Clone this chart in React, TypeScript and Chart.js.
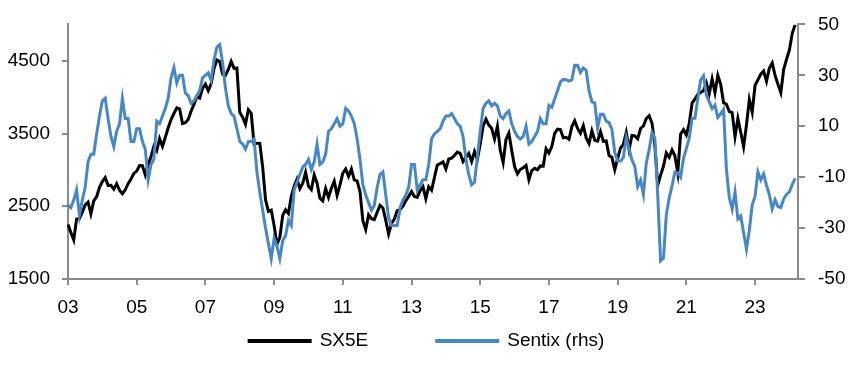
import React, { useEffect, useRef } from "react";
import { Chart, registerables } from "chart.js";

Chart.register(...registerables);

// ---------- data ----------
// monthly categories Jan 2003 .. Apr 2024
const months: string[] = [];
for (let y = 2003; y <= 2024; y++) {
  for (let m = 1; m <= 12; m++) {
    if (y === 2024 && m > 4) break;
    months.push(`${y}-${String(m).padStart(2, "0")}`);
  }
}

const xTickLabels = ["03", "05", "07", "09", "11", "13", "15", "17", "19", "21", "23"];
const leftTicks = [1500, 2500, 3500, 4500];
const rightTicks = [-50, -30, -10, 10, 30, 50];

const sx5e = [
  2249, 2140, 2036, 2325, 2330, 2419, 2519, 2556, 2395, 2575, 2631, 2761,
  2839, 2894, 2787, 2788, 2736, 2811, 2720, 2671, 2726, 2811, 2876, 2951,
  2984, 3058, 3056, 2930, 3076, 3182, 3326, 3263, 3429, 3322, 3448, 3579,
  3692, 3775, 3854, 3839, 3637, 3649, 3692, 3809, 3900, 4005, 3987, 4120,
  4179, 4088, 4182, 4393, 4512, 4489, 4316, 4300, 4381, 4490, 4395, 4400,
  3792, 3724, 3628, 3826, 3777, 3353, 3367, 3365, 3038, 2591, 2430, 2447,
  2236, 1976, 2071, 2375, 2451, 2401, 2638, 2775, 2873, 2743, 2817, 2966,
  2776, 2728, 2931, 2817, 2611, 2574, 2742, 2622, 2748, 2845, 2650, 2793,
  2954, 3013, 2911, 3011, 2862, 2849, 2700, 2303, 2180, 2385, 2330, 2317,
  2417, 2512, 2477, 2306, 2118, 2265, 2325, 2440, 2455, 2503, 2575, 2636,
  2703, 2634, 2624, 2712, 2770, 2603, 2768, 2721, 2893, 3068, 3087, 3109,
  3013, 3149, 3162, 3198, 3245, 3228, 3116, 3173, 3226, 3114, 3251, 3146,
  3352, 3599, 3697, 3616, 3571, 3425, 3601, 3270, 3101, 3418, 3506, 3268,
  3045, 2946, 3005, 3028, 3063, 2865, 2991, 3023, 3002, 3055, 3052, 3291,
  3231, 3320, 3501, 3560, 3555, 3442, 3449, 3421, 3595, 3674, 3570, 3504,
  3609, 3439, 3362, 3536, 3407, 3396, 3525, 3393, 3399, 3198, 3173, 3001,
  3159, 3298, 3352, 3515, 3281, 3474, 3467, 3427, 3569, 3604, 3704, 3745,
  3641, 3329, 2787, 2928, 3050, 3234, 3174, 3273, 3194, 2958, 3493, 3553,
  3481, 3636, 3919, 3975, 4039, 4064, 4089, 4196, 4048, 4250, 4063, 4298,
  4175, 3924, 3903, 3803, 3789, 3455, 3708, 3517, 3318, 3618, 3965, 3794,
  4163, 4238, 4315, 4359, 4218, 4399, 4471, 4297, 4175, 4061, 4382, 4521,
  4648, 4878, 4995,
];

const sentix = [
  -21, -22, -19, -15, -25, -19, -14, -4, -1, -1, 7, 14,
  20, 21, 13, 6, 2, 8, 11, 21, 13, 13, 4, 4,
  9, 9, 4, 1, -11, -5, -3, 12, 11, 14, 17, 21,
  29, 33, 27, 30, 30, 23, 22, 19, 20, 22, 24, 29,
  30, 31, 28, 36, 41, 42, 35, 25, 18, 15, 14, 9,
  4, 3, 1, 4, 4, 5, -8, -16, -23, -30, -36, -42,
  -34, -37, -42, -35, -33, -27, -29, -15, -12, -9, -6, -5,
  -3, -7, -4, 3, -5, -4, -1, 8, 9, 11, 13, 10,
  11, 17, 16, 14, 11, 5, -3, -13, -17, -20, -23, -21,
  -14, -9, -8, -17, -26, -29, -29, -29, -22, -19, -17, -14,
  -5, -5, -15, -13, -11, -11, -5, 5, 7, 8, 9, 12,
  14, 14, 15, 13, 11, 10, 6, -3, -9, -13, -12, -2,
  8, 17, 19, 20, 18, 19, 18, 14, 13, 15, 16, 11,
  8, 6, 5, 6, 10, 3, 4, 6, 8, 13, 11, 11,
  18.2, 17.4, 20.7, 23.9, 27.4, 28.4, 28.3, 27.7, 28.2, 34.0, 34.0, 31.1,
  32.9, 31.9, 24.0, 19.6, 19.2, 9.3, 14.7, 14.7, 12.0, 11.4, 8.8, -0.3,
  -3.7, -3.7, -2.2, 5.5, 1.1, -3.3, -5.8, -13.7, -11.1, -16.8, -4.5, 0.7,
  7.6, 5.2, -17.1, -42.9, -41.8, -24.8, -18.2, -13.4, -8.0, -8.3, -10.0, -2.7,
  1.3, 5.2, 13.1, 13.1, 21.0, 28.1, 29.8, 22.2, 19.6, 16.9, 18.3, 13.5,
  14.9, 16.6, -7.0, -18.0, -22.6, -15.8, -26.4, -25.2, -31.8, -38.3, -30.9, -21.0,
  -17.5, -8.0, -11.1, -8.7, -13.1, -17.0, -22.5, -18.9, -21.5, -21.9, -18.6, -16.8,
  -15.8, -12.9, -10.5,
];

const seriesNames = ["SX5E", "Sentix (rhs)"];

// ---------- style ----------
const FONT = "'Liberation Sans', Arial, Helvetica, sans-serif";
const FONT_SIZE = 19;
const BLACK = "#000000";
const BLUE = "#4787C3";
const AXIS = "#8a8a8a";

const xTickIndex = months
  .map((m, i) => ({ m, i }))
  .filter(({ m }) => m.endsWith("-01") && xTickLabels.includes(m.slice(2, 4)))
  .map(({ i }) => i);

const legendPlugin = {
  id: "bottomLegend",
  afterDraw(chart: any) {
    const ctx = chart.ctx as CanvasRenderingContext2D;
    const items = [
      { text: seriesNames[0], color: BLACK },
      { text: seriesNames[1], color: BLUE },
    ];
    const lineLen = 64;
    const gap = 8;
    const spacing = 67;
    ctx.save();
    ctx.font = `${FONT_SIZE}px ${FONT}`;
    ctx.textBaseline = "middle";
    ctx.textAlign = "left";
    const widths = items.map((it) => ctx.measureText(it.text).width);
    const total =
      widths.reduce((a, w) => a + lineLen + gap + w, 0) + spacing * (items.length - 1);
    let x = chart.width / 2 - total / 2;
    const y = chart.chartArea.bottom + 62;
    items.forEach((it, k) => {
      ctx.fillStyle = it.color;
      ctx.fillRect(x, y - 2, lineLen, 4);
      ctx.fillStyle = "#000";
      ctx.fillText(it.text, x + lineLen + gap, y);
      x += lineLen + gap + widths[k] + spacing;
    });
    ctx.restore();
  },
};

export default function App() {
  const ref = useRef<HTMLCanvasElement>(null);

  useEffect(() => {
    const canvas = ref.current;
    if (!canvas) return;
    const font = { family: FONT, size: FONT_SIZE };
    const chart = new Chart(canvas, {
      type: "line",
      data: {
        labels: months,
        datasets: [
          {
            label: seriesNames[0],
            data: sx5e,
            yAxisID: "y",
            borderColor: BLACK,
            backgroundColor: BLACK,
            borderWidth: 3,
            pointRadius: 0,
            tension: 0,
            order: 1,
          },
          {
            label: seriesNames[1],
            data: sentix,
            yAxisID: "y1",
            borderColor: BLUE,
            backgroundColor: BLUE,
            borderWidth: 3,
            pointRadius: 0,
            tension: 0,
            order: 0,
          },
        ],
      },
      options: {
        responsive: false,
        animation: false,
        devicePixelRatio: 1,
        events: [],
        layout: { padding: { top: 17, left: 0, right: 0, bottom: 50 } },
        plugins: {
          legend: { display: false },
          tooltip: { enabled: false },
        },
        scales: {
          x: {
            type: "category",
            offset: false,
            grid: {
              display: true,
              drawOnChartArea: false,
              drawTicks: true,
              tickLength: 6,
              color: AXIS,
              lineWidth: 2,
            },
            border: { display: true, color: AXIS, width: 2 },
            ticks: {
              autoSkip: false,
              maxRotation: 0,
              minRotation: 0,
              padding: 11,
              color: "#000",
              font,
              callback: (value: any) => {
                const lab = months[Number(value)];
                return lab ? lab.slice(2, 4) : "";
              },
            },
            afterBuildTicks: (scale: any) => {
              scale.ticks = xTickIndex.map((i) => ({ value: i }));
            },
            afterFit: (scale: any) => {
              scale.height = 39;
            },
          },
          y: {
            position: "left",
            min: 1500,
            max: 5000,
            grid: {
              display: true,
              drawOnChartArea: false,
              drawTicks: true,
              tickLength: 6,
              color: AXIS,
              lineWidth: 2,
            },
            border: { display: true, color: AXIS, width: 2 },
            ticks: {
              color: "#000",
              font,
              padding: 12,
              callback: (value: any) => String(value),
            },
            afterBuildTicks: (scale: any) => {
              scale.ticks = leftTicks.map((v) => ({ value: v }));
            },
            afterFit: (scale: any) => {
              scale.width = 68;
            },
          },
          y1: {
            position: "right",
            min: -50,
            max: 50,
            grid: {
              display: true,
              drawOnChartArea: false,
              drawTicks: true,
              tickLength: 7,
              color: AXIS,
              lineWidth: 2,
            },
            border: { display: true, color: AXIS, width: 2 },
            ticks: {
              color: "#000",
              font,
              padding: 13,
              callback: (value: any) => String(value),
            },
            afterBuildTicks: (scale: any) => {
              scale.ticks = rightTicks.map((v) => ({ value: v }));
            },
            afterFit: (scale: any) => {
              scale.width = 54;
            },
          },
        },
      },
      plugins: [legendPlugin],
    } as any);
    return () => chart.destroy();
  }, []);

  return (
    <div
      style={{
        position: "fixed",
        left: 0,
        top: 0,
        width: 852,
        height: 368,
        background: "#ffffff",
      }}
    >
      <canvas ref={ref} width={852} height={368} style={{ display: "block", width: 852, height: 368 }} />
    </div>
  );
}
